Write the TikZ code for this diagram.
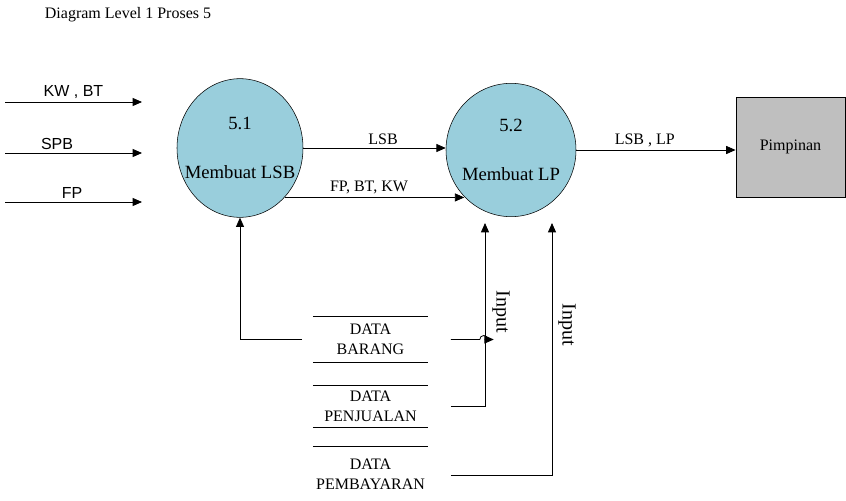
\documentclass[tikz,border=0pt]{standalone}
\usepackage{fontspec}
\setmainfont{Liberation Serif}
\newfontfamily\arialf{Liberation Sans}
\usetikzlibrary{shapes.geometric,arrows.meta,calc}

\definecolor{proc}{RGB}{153,206,220}
\tikzset{
  proses/.style={ellipse, draw, fill=proc, align=center,
    font=\fontsize{14}{17}\selectfont, inner xsep=-15pt, inner ysep=0pt},
  entitas/.style={rectangle, draw, fill=black!25, font=\fontsize{12}{14}\selectfont},
  simpan/.style={minimum width=86pt, align=center, inner sep=0pt,
    font=\fontsize{12}{15}\selectfont},
  flow/.style={-{Triangle[length=7pt,width=6pt]}, semithick},
  lbl/.style={font=\fontsize{12}{14}\selectfont, inner sep=2pt},
  lblsans/.style={font=\arialf\fontsize{12}{14}\selectfont, inner sep=2pt}
}

\begin{document}
\begin{tikzpicture}[x=0.75pt, y=-0.75pt]
    \useasboundingbox (0,0) rectangle (846,500);

    % judul
    \node[lbl, anchor=west] (judul) at (42,15) {Diagram Level 1 Proses 5};

    % proses
    \node[proses, minimum width=94.5pt, minimum height=104pt] (p51) at (240,148)
        {5.1\\[20pt]Membuat LSB};
    \node[proses, minimum width=97.5pt, minimum height=100pt] (p52) at (511,150)
        {5.2\\[20pt]Membuat LP};

    % entitas luar
    \node[entitas, minimum width=82pt, minimum height=75pt] (pimp) at (790.5,147) {Pimpinan};

    % data store
    \node[simpan, minimum height=33.75pt] (b1) at (370.5,339.5) {DATA\\BARANG};
    \node[simpan, minimum height=30.75pt] (b2) at (370.5,406.5) {DATA\\PENJUALAN};
    \node[simpan, minimum height=41.25pt] (b3) at (370.5,474.5) {DATA\\PEMBAYARAN};
    \draw (b1.north west) -- (b1.north east) (b1.south west) -- (b1.south east);
    \draw (b2.north west) -- (b2.north east) (b2.south west) -- (b2.south east);
    \draw (b3.north west) -- (b3.north east);

    % masukan dari kiri
    \coordinate (kw0) at (5,102);  \coordinate (kw1) at (142,102);
    \coordinate (spb0) at (5,153); \coordinate (spb1) at (142,153);
    \coordinate (fp0) at (5,202);  \coordinate (fp1) at (142,202);
    \draw[flow] (kw0) -- node[lblsans, above, pos=0.5] {KW , BT} (kw1);
    \draw[flow] (spb0) -- node[lblsans, above, pos=0.38] {SPB} (spb1);
    \draw[flow] (fp0) -- node[lblsans, above, pos=0.49] {FP} (fp1);

    % aliran antar proses
    \draw[flow] (p51.east) -- node[lbl, above, pos=0.56] {LSB} (p51.east -| p52.west);
    \draw[flow] (p51.-48) -- node[lbl, above, pos=0.47] {FP, BT, KW} (p51.-48 -| p52.-135);
    \draw[flow] (p52.east) -- node[lbl, above, pos=0.43] {LSB , LP} (p52.east -| pimp.west);

    % aliran dari data store
    \coordinate (in1) at (485,223);
    \coordinate (in2) at (552,223);
    \draw[flow] ([xshift=-8pt]b1.west) -| (p51.south);
    \draw[flow] ([xshift=17pt]b1.east) -- ++(29,0)
        arc[start angle=180, end angle=360, radius=4] -- ++(6,0);
    \draw[flow] ([xshift=17pt]b2.east) -| (in1);
    \draw[flow] ([xshift=17pt,yshift=-1pt]b3.east) -| (in2);
    \node[lbl, rotate=-90, font=\fontsize{15}{17}\selectfont] (inp1) at (501,312) {Input};
    \node[lbl, rotate=-90, font=\fontsize{15}{17}\selectfont] (inp2) at (567,325) {Input};
\end{tikzpicture}
\end{document}
